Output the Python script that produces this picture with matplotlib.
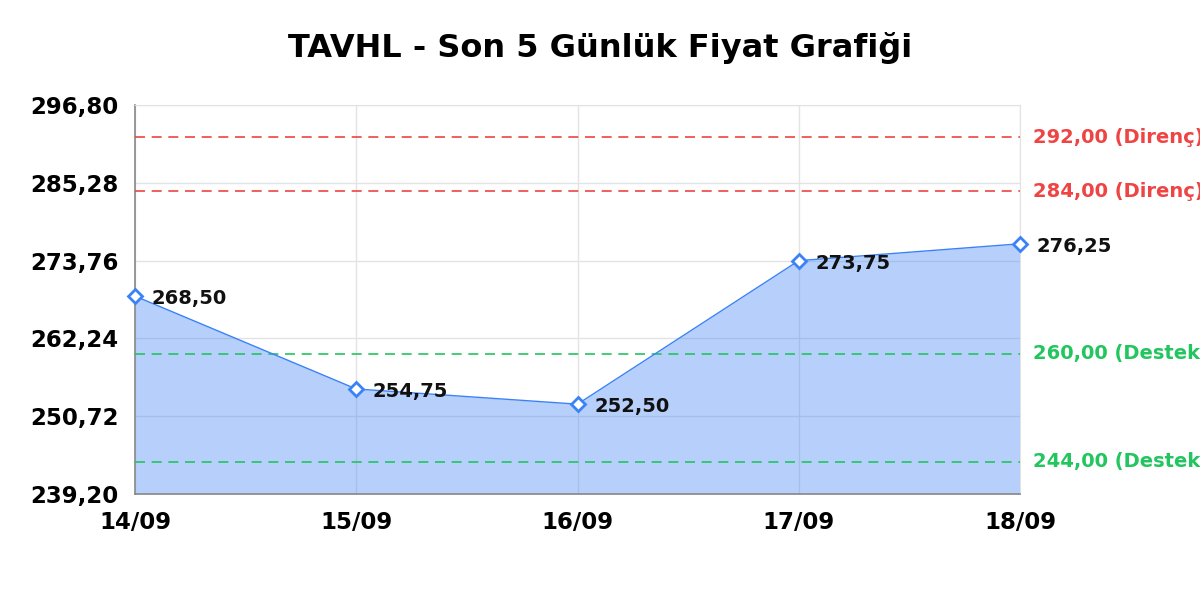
import matplotlib
matplotlib.use("Agg")
import matplotlib.pyplot as plt
import numpy as np

# veriler
dates = ['14/09', '15/09', '16/09', '17/09', '18/09']
prices = [268.50, 254.75, 252.50, 273.75, 276.25]
resistances = [292.00, 284.00]
supports = [260.00, 244.00]
y_min, y_max = 239.20, 296.80
y_ticks = [239.20, 250.72, 262.24, 273.76, 285.28, 296.80]

line_color = '#3b82f6'
red = '#ef4444'
green = '#22c55e'


def tr(v):
    return f'{v:.2f}'.replace('.', ',')


fig = plt.figure(figsize=(12, 6), dpi=100)
ax = fig.add_axes([0.1125, 0.1767, 0.7375, 0.6483])

x = np.arange(len(dates))
ax.fill_between(x, prices, y_min, color=line_color, alpha=0.37, zorder=2, linewidth=0)
ax.plot(x, prices, color=line_color, linewidth=1, zorder=4)
ax.plot(x, prices, linestyle='none', marker='D', markersize=7,
        markerfacecolor='white', markeredgecolor=line_color,
        markeredgewidth=2, zorder=5, clip_on=False)

for xi, p in zip(x, prices):
    ax.annotate(tr(p), (xi, p), xytext=(12, -2), textcoords='offset points',
                ha='left', va='center', fontsize=14, fontweight='bold',
                color='#111111', zorder=6, annotation_clip=False)

for lvl in resistances:
    ax.axhline(lvl, color=red, linestyle=(0, (6, 4)), linewidth=1.2, zorder=3)
    ax.text(1.015, lvl, f'{tr(lvl)} (Direnç)', transform=ax.get_yaxis_transform(),
            ha='left', va='center', fontsize=14, fontweight='bold', color=red,
            clip_on=False)
for lvl in supports:
    ax.axhline(lvl, color=green, linestyle=(0, (6, 4)), linewidth=1.2, zorder=3)
    ax.text(1.015, lvl, f'{tr(lvl)} (Destek)', transform=ax.get_yaxis_transform(),
            ha='left', va='center', fontsize=14, fontweight='bold', color=green,
            clip_on=False)

ax.set_xlim(0, len(dates) - 1)
ax.set_ylim(y_min, y_max)
ax.set_xticks(x)
ax.set_xticklabels(dates)
ax.set_yticks(y_ticks)
ax.set_yticklabels([tr(v) for v in y_ticks])
ax.tick_params(length=0, labelsize=16.5, pad=12)
for lbl in ax.get_xticklabels() + ax.get_yticklabels():
    lbl.set_fontweight('bold')

ax.grid(True, color='#e3e3e3', linewidth=1, zorder=1)
ax.set_axisbelow(True)
for s in ['top', 'right']:
    ax.spines[s].set_color('#e3e3e3')
for s in ['left', 'bottom']:
    ax.spines[s].set_color('#888888')
    ax.spines[s].set_linewidth(1.2)

fig.text(0.5, 0.92, 'TAVHL - Son 5 Günlük Fiyat Grafiği', fontsize=23,
         fontweight='bold', ha='center', va='center')

fig.savefig('out.png', dpi=100)
